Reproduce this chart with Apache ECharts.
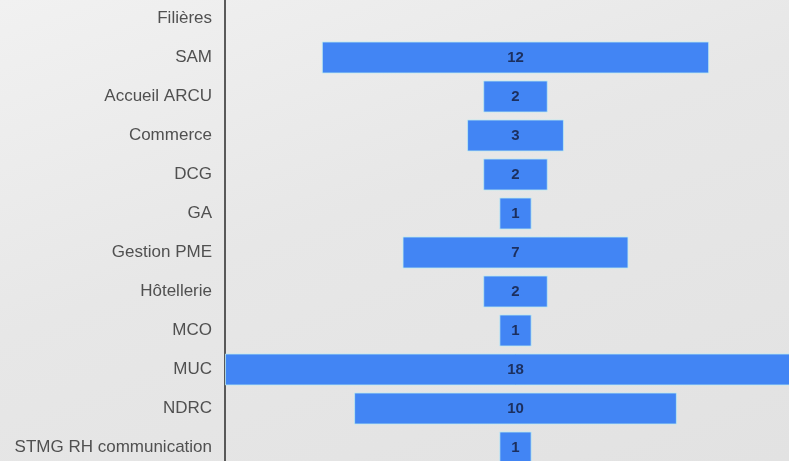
<!DOCTYPE html>
<html>
<head>
<meta charset="utf-8">
<script src="https://cdn.jsdelivr.net/npm/echarts@6/dist/echarts.min.js"></script>
<style>
html,body{margin:0;padding:0;width:789px;height:461px;overflow:hidden;}
body{background:linear-gradient(160deg,#f1f1f1 0%,#e7e7e7 45%,#e2e2e2 100%);position:relative;}
#c{position:absolute;left:0;top:-1px;width:806px;height:468px;}
</style>
</head>
<body>
<div id="c"></div>
<script>
const categories = ["Filières","SAM","Accueil ARCU","Commerce","DCG","GA","Gestion PME","Hôtellerie","MCO","MUC","NDRC","STMG RH communication"];
const values = [null,12,2,3,2,1,7,2,1,18,10,1];
const maxValue = 18;

const offsets = values.map(v => v == null ? null : (maxValue - v) / 2);

const chart = echarts.init(document.getElementById('c'), null, {renderer:'canvas'});
chart.setOption({
  backgroundColor: 'transparent',
  animation: false,
  grid: {left: 225, right: 0, top: 0, bottom: 0, containLabel: false},
  xAxis: {type:'value', min:0, max:maxValue, show:false},
  yAxis: {
    type:'category', data: categories, inverse:true,
    axisLine:{show:true, lineStyle:{color:'#2a2a2a', width:1.5}},
    axisTick:{show:false},
    axisLabel:{color:'#505050', fontSize:17, fontFamily:'Liberation Sans, Arial, sans-serif', margin:13}
  },
  series: [
    {type:'bar', stack:'s', data: offsets, itemStyle:{color:'transparent'}, barWidth:32, silent:true},
    {type:'bar', stack:'s', data: values, barWidth:32,
     itemStyle:{color:'#4285f4', borderColor:'rgba(190,235,240,0.8)', borderWidth:1},
     label:{show:true, position:'inside', color:'#1c2f5e', fontSize:15, fontWeight:'bold', fontFamily:'Liberation Sans, Arial, sans-serif'}}
  ]
});
</script>
</body>
</html>
